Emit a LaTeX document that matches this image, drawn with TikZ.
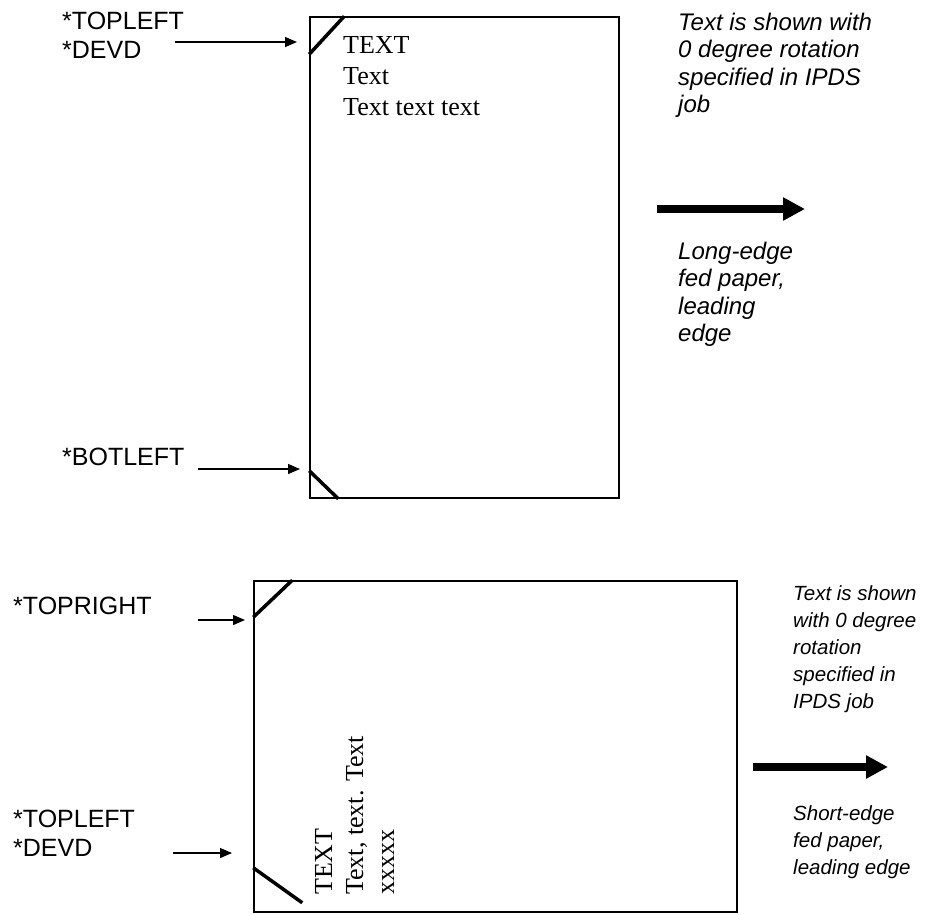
\documentclass[tikz,border=0pt]{standalone}
\usepackage{fontspec}
\setmainfont{Liberation Serif}
\setsansfont{Liberation Sans}
\usetikzlibrary{arrows.meta, calc}

\begin{document}
\begin{tikzpicture}[
        x=1pt, y=-1pt,
        paper/.style={rectangle, draw=black, line width=1.5pt, inner sep=0pt},
        corner/.style={line width=3.5pt},
        devlabel/.style={anchor=north west, inner sep=0pt, align=left, font=\sffamily\fontsize{25}{29}\selectfont},
        note/.style={anchor=north west, inner sep=0pt, align=left, font=\sffamily\itshape\fontsize{24}{27.5}\selectfont},
        smallnote/.style={note, font=\sffamily\itshape\fontsize{20.5}{27}\selectfont},
        pagetext/.style={anchor=north west, inner sep=0pt, align=left, font=\rmfamily\fontsize{26}{31}\selectfont},
        pointer/.style={-{Triangle[length=12pt, width=10pt]}, line width=1.3pt},
        feed/.style={-{Triangle[length=22pt, width=22pt]}, line width=8pt}
    ]
    \useasboundingbox (0,0) rectangle (926,914);

    % long-edge fed page
    \node[paper, minimum width=309pt, minimum height=481pt] (longpage) at (464.5,257.5) {};
    \draw[corner] ($(longpage.north west)+(0,38)$) -- ($(longpage.north west)+(35,0)$);
    \draw[corner] ($(longpage.south west)+(0,-28)$) -- ($(longpage.south west)+(29,0)$);
    \node[pagetext] (longtext) at (343,35.8) {TEXT\\Text\\Text text text};

    \node[devlabel] (topleftA) at (62,12) {*TOPLEFT\\*DEVD};
    \node[devlabel] (botleft) at (62,448) {*BOTLEFT};
    \coordinate (topleftAfrom) at (175,42);
    \coordinate (topleftAto) at (297,42);
    \coordinate (botleftfrom) at (198,469);
    \coordinate (botleftto) at (300,469);
    \draw[pointer] (topleftAfrom) -- (topleftAto);
    \draw[pointer] (botleftfrom) -- (botleftto);

    \node[note] (rotlong) at (678,12.5) {Text is shown with\\0 degree rotation\\specified in IPDS\\job};
    \coordinate (feedlongfrom) at (657,209);
    \coordinate (feedlongto) at (805,209);
    \draw[feed] (feedlongfrom) -- (feedlongto);
    \node[note] (feedlong) at (678,241.5) {Long-edge\\fed paper,\\leading\\edge};

    % short-edge fed page
    \node[paper, minimum width=483pt, minimum height=331pt] (shortpage) at (495.5,746.5) {};
    \draw[corner] ($(shortpage.north west)+(0,37)$) -- ($(shortpage.north west)+(39,0)$);
    \draw[corner] ($(shortpage.south west)+(0,-45)$) -- ($(shortpage.south west)+(49,-10)$);
    \node[pagetext, rotate=90] (shorttext) at (315,895) {TEXT\\Text, text. Text\\xxxxx};

    \node[devlabel] (topright) at (13,597) {*TOPRIGHT};
    \node[devlabel] (topleftB) at (13,810) {*TOPLEFT\\*DEVD};
    \coordinate (toprightfrom) at (198,620);
    \coordinate (toprightto) at (245,620);
    \coordinate (topleftBfrom) at (173,853);
    \coordinate (topleftBto) at (232,853);
    \draw[pointer] (toprightfrom) -- (toprightto);
    \draw[pointer] (topleftBfrom) -- (topleftBto);

    \node[smallnote] (rotshort) at (793,585) {Text is shown\\with 0 degree\\rotation\\specified in\\IPDS job};
    \coordinate (feedshortfrom) at (753,767);
    \coordinate (feedshortto) at (888,767);
    \draw[feed] (feedshortfrom) -- (feedshortto);
    \node[smallnote] (feedshort) at (793,805) {Short-edge\\fed paper,\\leading edge};
\end{tikzpicture}
\end{document}
